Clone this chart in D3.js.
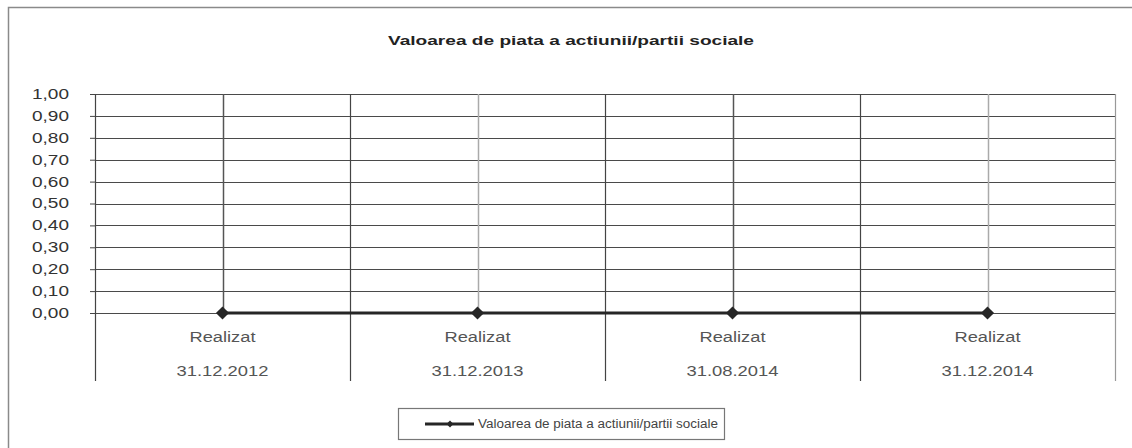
<!DOCTYPE html>
<html>
<head>
<meta charset="utf-8">
<script src="https://cdn.jsdelivr.net/npm/d3@7"></script>
<style>
  body { margin: 0; background: #fff; }
  text { font-family: "Liberation Sans", Arial, sans-serif; }
</style>
</head>
<body>
<svg id="chart" width="1132" height="448"></svg>
<script>
var categories = ["31.12.2012", "31.12.2013", "31.08.2014", "31.12.2014"];
var catTop = ["Realizat", "Realizat", "Realizat", "Realizat"];
var values = [0, 0, 0, 0];
var yTicks = [0, 0.1, 0.2, 0.3, 0.4, 0.5, 0.6, 0.7, 0.8, 0.9, 1.0];
var seriesName = "Valoarea de piata a actiunii/partii sociale";

var svg = d3.select("#chart");
var plotL = 95, plotR = 1115, plotT = 94, plotB = 313;

// outer frame (right and bottom run off the picture)
svg.append("path")
   .attr("d", "M8.5,448 L8.5,7.5 L1132,7.5")
   .style("fill", "none").style("stroke", "#8a8a8a").style("stroke-width", 1.5);

svg.append("text").attr("x", 571).attr("y", 45)
   .attr("text-anchor", "middle")
   .attr("textLength", 366).attr("lengthAdjust", "spacingAndGlyphs")
   .style("font-size", "13px").style("font-weight", "bold").style("fill", "#222")
   .text(seriesName);

var x = d3.scaleBand().domain(categories).range([plotL, plotR]);
var y = d3.scaleLinear().domain([0, 1]).range([plotB, plotT]);
var fmt = function(d) { return d3.format(".2f")(d).replace(".", ","); };

// horizontal gridlines
svg.append("g").selectAll("line").data(yTicks).enter().append("line")
   .attr("x1", plotL).attr("x2", plotR)
   .attr("y1", function(d) { return Math.round(y(d)) + 0.5; })
   .attr("y2", function(d) { return Math.round(y(d)) + 0.5; })
   .style("stroke", "#4a4a4a").style("stroke-width", 1);

// y axis with ticks
var yAxis = svg.append("g").attr("transform", "translate(" + plotL + ",0)")
   .call(d3.axisLeft(y).tickValues(yTicks).tickFormat(fmt).tickSize(5).tickPadding(21));
yAxis.select(".domain").remove();
yAxis.selectAll("line").style("stroke", "#444");
yAxis.selectAll("text")
   .attr("textLength", 37).attr("lengthAdjust", "spacingAndGlyphs")
   .style("font-size", "14px").style("fill", "#333").style("font-family", "Liberation Sans, Arial, sans-serif");

// category separators (extend below the plot)
var seps = categories.map(function(c) { return x(c); }).concat([plotR]);
svg.append("g").selectAll("line").data(seps).enter().append("line")
   .attr("x1", function(d) { return Math.round(d) + 0.5; })
   .attr("x2", function(d) { return Math.round(d) + 0.5; })
   .attr("y1", plotT).attr("y2", 381)
   .style("stroke", function(d, i) { return i === seps.length - 1 ? "#999" : "#444"; })
   .style("stroke-width", 1.2);

// vertical gridlines at category centres
svg.append("g").selectAll("line").data(categories).enter().append("line")
   .attr("x1", function(d) { return Math.round(x(d) + x.bandwidth() / 2) + 0.5; })
   .attr("x2", function(d) { return Math.round(x(d) + x.bandwidth() / 2) + 0.5; })
   .attr("y1", plotT).attr("y2", plotB)
   .style("stroke", function(d, i) { return i % 2 === 0 ? "#555" : "#aaa"; })
   .style("stroke-width", 1.5);

// category labels
var lab = svg.append("g").selectAll("g").data(categories).enter().append("g")
   .attr("transform", function(d) { return "translate(" + (x(d) + x.bandwidth() / 2) + ",0)"; });
lab.append("text").attr("y", 342).attr("text-anchor", "middle")
   .attr("textLength", 66).attr("lengthAdjust", "spacingAndGlyphs")
   .style("font-size", "14px").style("fill", "#555")
   .text(function(d, i) { return catTop[i]; });
lab.append("text").attr("y", 376).attr("text-anchor", "middle")
   .attr("textLength", 92).attr("lengthAdjust", "spacingAndGlyphs")
   .style("font-size", "14px").style("fill", "#555")
   .text(function(d) { return d; });

// series line
var pts = categories.map(function(c, i) { return [x(c) + x.bandwidth() / 2, y(values[i])]; });
svg.append("path")
   .attr("d", d3.line()(pts))
   .style("fill", "none").style("stroke", "#262626").style("stroke-width", 3);
svg.append("g").selectAll("path").data(pts).enter().append("path")
   .attr("d", d3.symbol().type(d3.symbolDiamond2).size(110))
   .attr("transform", function(d) { return "translate(" + d[0] + "," + d[1] + ")"; })
   .style("fill", "#262626");

// legend
var lg = svg.append("g");
lg.append("rect").attr("x", 398.5).attr("y", 408.5).attr("width", 326).attr("height", 31)
   .style("fill", "#fff").style("stroke", "#777").style("stroke-width", 1.2);
lg.append("line").attr("x1", 425).attr("x2", 474).attr("y1", 424).attr("y2", 424)
   .style("stroke", "#262626").style("stroke-width", 3);
lg.append("path").attr("d", d3.symbol().type(d3.symbolDiamond2).size(30))
   .attr("transform", "translate(450,424)").style("fill", "#262626");
lg.append("text").attr("x", 478).attr("y", 428)
   .attr("textLength", 240).attr("lengthAdjust", "spacingAndGlyphs")
   .style("font-size", "12px").style("fill", "#444")
   .text(seriesName);
</script>
</body>
</html>
